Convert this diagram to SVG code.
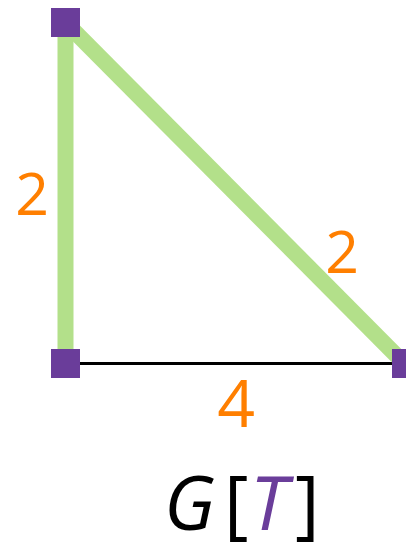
<svg xmlns="http://www.w3.org/2000/svg" width="406" height="551" viewBox="0 0 406 551">
<style>
.tree{stroke:#b3e08a;stroke-width:16;stroke-linecap:butt;fill:none}
.edge{stroke:#000;stroke-width:3;fill:none}
.node{fill:#6a3d9a}
.lbl{font-family:"Open Sans","DejaVu Sans",sans-serif;fill:#ff7f00;text-anchor:middle}
.title{font-family:"Open Sans","DejaVu Sans",sans-serif;font-size:75px}
</style>
<rect width="406" height="551" fill="#fff"/>
<g id="connectors">
<line class="edge" x1="65.5" y1="363.5" x2="406" y2="363.5"/>
<line class="tree" x1="65.5" y1="22.5" x2="65.5" y2="363.5"/>
<line class="tree" x1="65.5" y1="22.5" x2="401" y2="360"/>
</g>
<g id="n1"><rect class="node" x="51" y="8" width="29" height="29"/></g>
<g id="n2"><rect class="node" x="51" y="349" width="29" height="29"/></g>
<g id="n3"><rect class="node" x="392" y="349" width="29" height="29"/></g>
<g id="labels">
<text class="lbl" x="32" y="215" font-size="59">2</text>
<text class="lbl" x="342" y="273" font-size="59">2</text>
<text class="lbl" x="236" y="427" font-size="66">4</text>
</g>
<g id="title">
<text class="title" x="164" y="530" font-style="italic" fill="#000">G</text>
<text class="title" x="224" y="530" fill="#000">[</text>
<text class="title" x="250" y="530" font-style="italic" fill="#6a3d9a">T</text>
<text class="title" x="295" y="530" fill="#000">]</text>
</g>
</svg>
